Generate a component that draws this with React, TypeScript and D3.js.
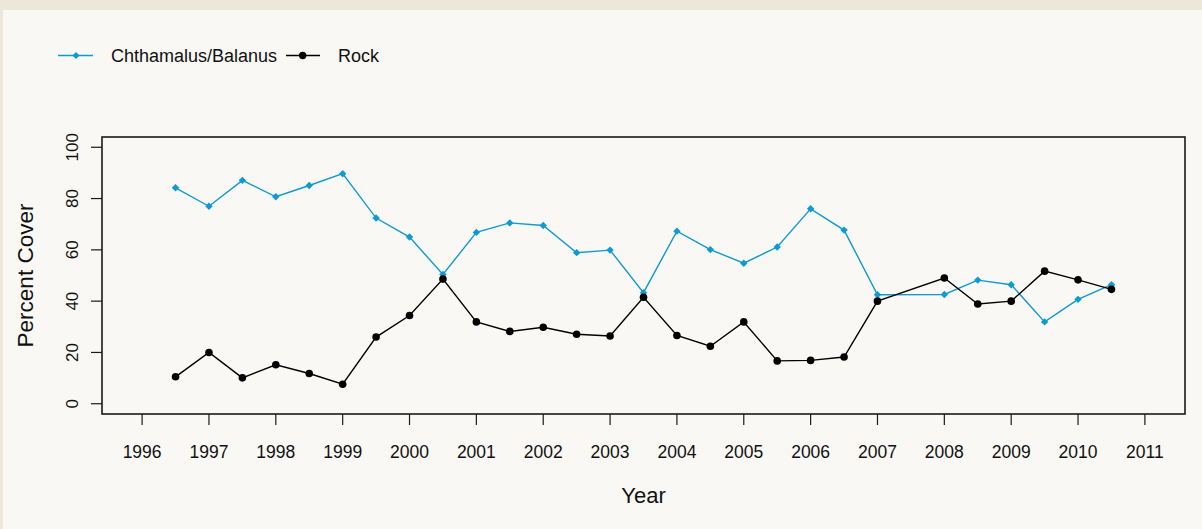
import React from "react";
import * as d3 from "d3";

const yearsBal = [1996.5, 1997, 1997.5, 1998, 1998.5, 1999, 1999.5, 2000, 2000.5, 2001, 2001.5, 2002, 2002.5, 2003, 2003.5, 2004, 2004.5, 2005, 2005.5, 2006, 2006.5, 2007, 2008, 2008.5, 2009, 2009.5, 2010, 2010.5];
const balanus = [84.2, 77.0, 87.1, 80.7, 85.1, 89.7, 72.4, 65.0, 50.4, 66.8, 70.5, 69.5, 58.9, 59.9, 43.3, 67.3, 60.1, 54.8, 61.1, 76.0, 67.7, 42.5, 42.6, 48.2, 46.4, 31.9, 40.7, 46.4];
const rock = [10.5, 20.0, 10.1, 15.2, 11.8, 7.6, 26.0, 34.4, 48.6, 31.9, 28.2, 29.8, 27.1, 26.4, 41.5, 26.6, 22.4, 31.9, 16.7, 16.9, 18.2, 40.0, 49.0, 38.9, 40.0, 51.7, 48.3, 44.6];
const xTicks = d3.range(1996, 2012);
const yTicks = [0, 20, 40, 60, 80, 100];
const seriesNames = ["Chthamalus/Balanus", "Rock"];

const W = 1202;
const H = 529;
const left = 102, right = 1185, top = 137, bottom = 414;
const BLUE = "#0f9ad2";
const FONT = "Arial, 'Liberation Sans', sans-serif";

function diamond(cx: number, cy: number, r: number) {
  return `M${cx},${cy - r}L${cx + r},${cy}L${cx},${cy + r}L${cx - r},${cy}Z`;
}

export default function App() {
  const x = d3.scaleLinear().domain([1995.4, 2011.6]).range([left, right]);
  const y = d3.scaleLinear().domain([-4, 104]).range([bottom, top]);
  const line = d3
    .line<[number, number]>()
    .x((d) => x(d[0]))
    .y((d) => y(d[1]));
  const balPts: [number, number][] = yearsBal.map((yr, i) => [yr, balanus[i]]);
  const rockPts: [number, number][] = yearsBal.map((yr, i) => [yr, rock[i]]);

  return (
    <svg
      width={W}
      height={H}
      style={{ position: "absolute", left: 0, top: 0, display: "block" }}
      fontFamily={FONT}
    >
      <rect x={0} y={0} width={W} height={H} fill="#ece8d9" />
      <rect x={3} y={10} width={W - 3} height={H - 10} fill="#f9f8f4" />

      {/* legend */}
      <g>
        <line x1={58} x2={93} y1={55.5} y2={55.5} stroke={BLUE} strokeWidth={1.4} />
        <path d={diamond(76, 55.5, 3.6)} fill={BLUE} />
        <text x={111} y={62} fontSize={18} fill="#111">{seriesNames[0]}</text>
        <line x1={286} x2={320} y1={55.5} y2={55.5} stroke="#000" strokeWidth={1.4} />
        <circle cx={302.7} cy={55.5} r={3.7} fill="#000" />
        <text x={338} y={62} fontSize={18} fill="#111">{seriesNames[1]}</text>
      </g>

      {/* series */}
      <path d={line(balPts) || ""} fill="none" stroke={BLUE} strokeWidth={1.4} />
      {balPts.map((d, i) => (
        <path key={"b" + i} d={diamond(x(d[0]), y(d[1]), 3.7)} fill={BLUE} />
      ))}
      <path d={line(rockPts) || ""} fill="none" stroke="#000" strokeWidth={1.4} />
      {rockPts.map((d, i) => (
        <circle key={"r" + i} cx={x(d[0])} cy={y(d[1])} r={3.8} fill="#000" />
      ))}

      {/* box */}
      <rect x={left} y={top} width={right - left} height={bottom - top} fill="none" stroke="#1a1a1a" strokeWidth={1.6} />

      {/* x axis */}
      {xTicks.map((t) => (
        <g key={"x" + t}>
          <line x1={x(t)} x2={x(t)} y1={bottom} y2={bottom + 11} stroke="#1a1a1a" strokeWidth={1.2} />
          <text x={x(t)} y={458} textAnchor="middle" fontSize={17.5} fill="#111">{t}</text>
        </g>
      ))}
      {/* y axis */}
      {yTicks.map((t) => (
        <g key={"y" + t}>
          <line x1={left - 11} x2={left} y1={y(t)} y2={y(t)} stroke="#1a1a1a" strokeWidth={1.2} />
          <text
            transform={`translate(77.5,${y(t)}) rotate(-90)`}
            textAnchor="middle"
            fontSize={17}
            fill="#111"
          >
            {t}
          </text>
        </g>
      ))}

      <text x={(left + right) / 2} y={503} textAnchor="middle" fontSize={22} fill="#111">Year</text>
      <text
        transform={`translate(33,${(top + bottom) / 2}) rotate(-90)`}
        textAnchor="middle"
        fontSize={22.5}
        fill="#111"
      >
        Percent Cover
      </text>
    </svg>
  );
}
